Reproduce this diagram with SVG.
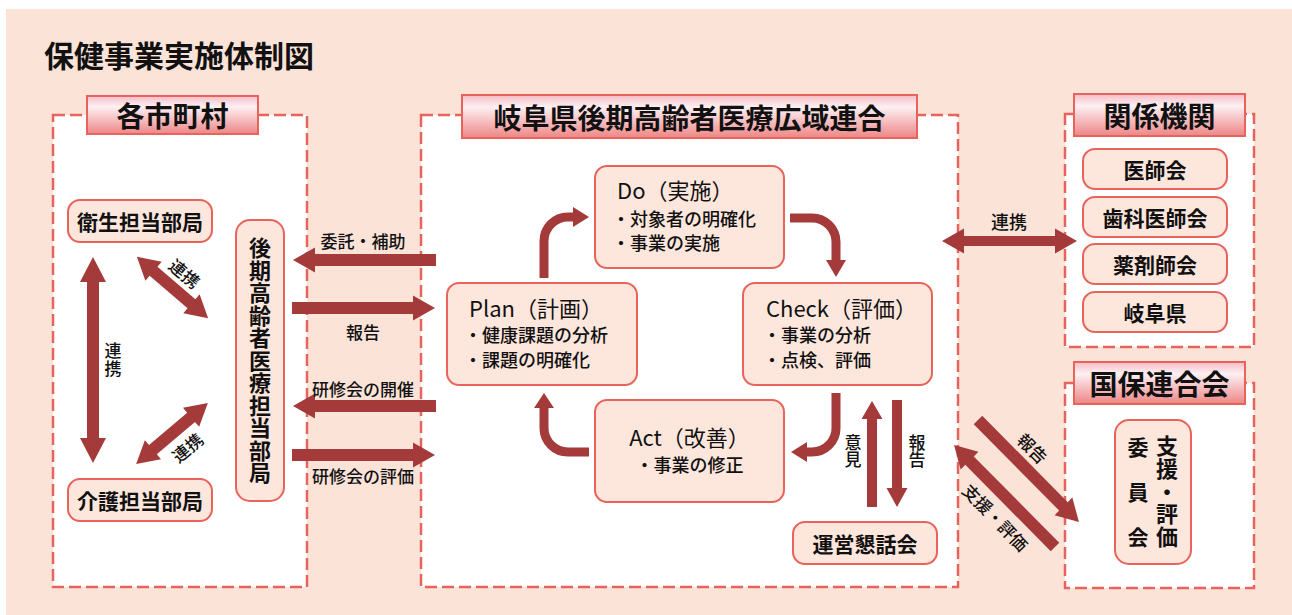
<svg xmlns="http://www.w3.org/2000/svg" width="1292" height="615" viewBox="0 0 1292 615">
<defs>
<linearGradient id="hg" x1="0" y1="0" x2="0" y2="1">
<stop offset="0" stop-color="#F5BCC4"/>
<stop offset="0.28" stop-color="#FDF0F3"/>
<stop offset="1" stop-color="#EE8585"/>
</linearGradient>
</defs>
<style>
.bg{fill:#FCE3D8}
.panel{fill:#fff;stroke:#E8635B;stroke-width:2.5;stroke-dasharray:12 5}
.hdr{fill:url(#hg);stroke:#E8635B;stroke-width:2}
.node{fill:#FDE6DC;stroke:#E8635B;stroke-width:2}
.arr{fill:#A43A3A}
.cur{fill:none;stroke:#A43A3A;stroke-width:9}
text{font-family:"Noto Sans CJK JP","Noto Sans",sans-serif;fill:#111}
.title{font-size:30px;font-weight:700}
.htxt{font-size:28px;font-weight:700;text-anchor:middle;dominant-baseline:central}
.ntxt{font-size:21px;font-weight:700;text-anchor:middle;dominant-baseline:central}
.lbl{font-size:17px;font-weight:500;text-anchor:middle;dominant-baseline:central}
.vt{writing-mode:vertical-rl;text-anchor:middle}
.ph{font-size:22px;font-weight:400}
.pb{font-size:18px;font-weight:500}
</style>
<rect class="bg" x="6" y="9" width="1286" height="606"/>
<text class="title" x="44" y="67">保健事業実施体制図</text>

<g id="panel-shichoson">
<rect class="panel" x="53" y="115" width="254" height="472"/>
<rect class="hdr" x="87" y="96" width="171" height="38"/>
<text class="htxt" x="172.5" y="115">各市町村</text>
</g>
<g id="panel-kouiki">
<rect class="panel" x="421" y="115" width="537" height="472"/>
<rect class="hdr" x="462" y="95" width="455" height="43"/>
<text class="htxt" x="689.5" y="116.5">岐阜県後期高齢者医療広域連合</text>
</g>
<g id="panel-kankei">
<rect class="panel" x="1065" y="114" width="189" height="233"/>
<rect class="hdr" x="1074" y="94" width="171" height="42"/>
<text class="htxt" x="1159.5" y="115">関係機関</text>
</g>
<g id="panel-kokuho">
<rect class="panel" x="1065" y="383" width="189" height="205"/>
<rect class="hdr" x="1074" y="362" width="171" height="42"/>
<text class="htxt" x="1159.5" y="383">国保連合会</text>
</g>

<g id="connectors">
<path class="arr" d="M93,257 L106,282 H99 V438 H106 L93,463 L80,438 H87 V282 H80 Z"/>
<path class="arr" transform="translate(172.5,287.5) rotate(40.7)" d="M-47,0 L-25,-12.5 V-6 H25 V-12.5 L47,0 L25,12.5 V6 H-25 V12.5 Z"/>
<path class="arr" transform="translate(172,433.5) rotate(-40.3)" d="M-47,0 L-25,-12.5 V-6 H25 V-12.5 L47,0 L25,12.5 V6 H-25 V12.5 Z"/>
<path class="arr" d="M436,254 H315 V247.5 L293,260 L315,272.5 V266 H436 Z"/>
<path class="arr" d="M292,302 H413 V295.5 L435,308 L413,320.5 V314 H292 Z"/>
<path class="arr" d="M436,400 H315 V393.5 L293,406 L315,418.5 V412 H436 Z"/>
<path class="arr" d="M292,449 H413 V442.5 L435,455 L413,467.5 V461 H292 Z"/>
<path class="cur" d="M544,278 V241 A24,24 0 0 1 568,217 H575"/>
<path class="arr" d="M573,207 L589,217 L573,227 Z"/>
<path class="cur" d="M790,218 H812 A24,24 0 0 1 836,242 V262"/>
<path class="arr" d="M826,260 L836,277 L846,260 Z"/>
<path class="cur" d="M836,393 V428 A24,24 0 0 1 812,452 H805"/>
<path class="arr" d="M807,442 L791,452 L807,462 Z"/>
<path class="cur" d="M589,452 H568 A24,24 0 0 1 544,428 V406"/>
<path class="arr" d="M534,408 L544,393 L554,408 Z"/>
<path class="arr" d="M867,507 V419 H861.5 L872,401 L882.5,419 H877 V507 Z"/>
<path class="arr" d="M892,400 V488 H886.5 L897,507 L907.5,488 H902 V400 Z"/>
<path class="arr" d="M942,241 L964,228.5 V236 H1055 V228.5 L1077,241 L1055,253.5 V246 H964 V253.5 Z"/>
<path class="arr" transform="translate(978,420) rotate(45.3)" d="M0,-6 H121.5 V-12.5 L143.5,0 L121.5,12.5 V6 H0 Z"/>
<path class="arr" transform="translate(1055,547) rotate(-134.7)" d="M0,-6 H121.5 V-12.5 L143.5,0 L121.5,12.5 V6 H0 Z"/>
<text class="lbl vt" x="113" y="360.5" style="letter-spacing:1px">連携</text>
<text class="lbl" transform="translate(185,273) rotate(40)">連携</text>
<text class="lbl" transform="translate(187,447) rotate(-40)">連携</text>
<text class="lbl" x="363" y="240">委託・補助</text>
<text class="lbl" x="363" y="331">報告</text>
<text class="lbl" x="363" y="388">研修会の開催</text>
<text class="lbl" x="363" y="475">研修会の評価</text>
<text class="lbl vt" x="853" y="451.5" style="letter-spacing:0.5px">意見</text>
<text class="lbl vt" x="917" y="451.5" style="letter-spacing:0.5px">報告</text>
<text class="lbl" x="1009" y="221" style="font-size:18px">連携</text>
<text class="lbl" transform="translate(1033,448) rotate(45)">報告</text>
<text class="lbl" transform="translate(996,517) rotate(46)">支援・評価</text>
</g>

<g id="node-eisei">
<rect class="node" x="68" y="200" width="144" height="42" rx="12"/>
<text class="ntxt" x="140" y="221">衛生担当部局</text>
</g>
<g id="node-kaigo">
<rect class="node" x="68" y="479" width="144" height="42" rx="12"/>
<text class="ntxt" x="140" y="500">介護担当部局</text>
</g>
<g id="node-kouki">
<rect class="node" x="236" y="220" width="48" height="281" rx="14"/>
<text class="ntxt vt" x="260" y="360.5" style="font-size:22px;letter-spacing:0.5px">後期高齢者医療担当部局</text>
</g>

<g id="node-do">
<rect class="node" x="595" y="166" width="189" height="102" rx="12"/>
<text class="ph" x="617" y="198.5">Do（実施）</text>
<text class="pb" x="612" y="225.5">・対象者の明確化</text>
<text class="pb" x="612" y="250">・事業の実施</text>
</g>
<g id="node-plan">
<rect class="node" x="447" y="283" width="190" height="102" rx="12"/>
<text class="ph" x="469" y="317">Plan（計画）</text>
<text class="pb" x="464" y="342">・健康課題の分析</text>
<text class="pb" x="464" y="366.5">・課題の明確化</text>
</g>
<g id="node-check">
<rect class="node" x="743" y="283" width="189" height="102" rx="12"/>
<text class="ph" x="766" y="317">Check（評価）</text>
<text class="pb" x="763" y="342">・事業の分析</text>
<text class="pb" x="763" y="366.5">・点検、評価</text>
</g>
<g id="node-act">
<rect class="node" x="595" y="400" width="189" height="102" rx="12"/>
<text class="ph" x="689.5" y="446" text-anchor="middle">Act（改善）</text>
<text class="pb" x="689.5" y="472" text-anchor="middle">・事業の修正</text>
</g>
<g id="node-kondankai">
<rect class="node" x="793" y="522" width="144" height="42" rx="12"/>
<text class="ntxt" x="865" y="543">運営懇話会</text>
</g>

<g id="node-ishikai">
<rect class="node" x="1083" y="149" width="144" height="40" rx="12"/>
<text class="ntxt" x="1155" y="169">医師会</text>
</g>
<g id="node-shikaishikai">
<rect class="node" x="1083" y="197" width="144" height="40" rx="12"/>
<text class="ntxt" x="1155" y="217">歯科医師会</text>
</g>
<g id="node-yakuzaishikai">
<rect class="node" x="1083" y="244" width="144" height="40" rx="12"/>
<text class="ntxt" x="1155" y="264">薬剤師会</text>
</g>
<g id="node-gifuken">
<rect class="node" x="1083" y="292" width="144" height="40" rx="12"/>
<text class="ntxt" x="1155" y="312">岐阜県</text>
</g>
<g id="node-iinkai">
<rect class="node" x="1115" y="420" width="76" height="144" rx="14"/>
<text class="ntxt vt" x="1167" y="491.5" style="font-size:22px;letter-spacing:0.6px">支援・評価</text>
<text class="ntxt vt" x="1138" y="504" style="letter-spacing:24px">委員会</text>
</g>
</svg>
